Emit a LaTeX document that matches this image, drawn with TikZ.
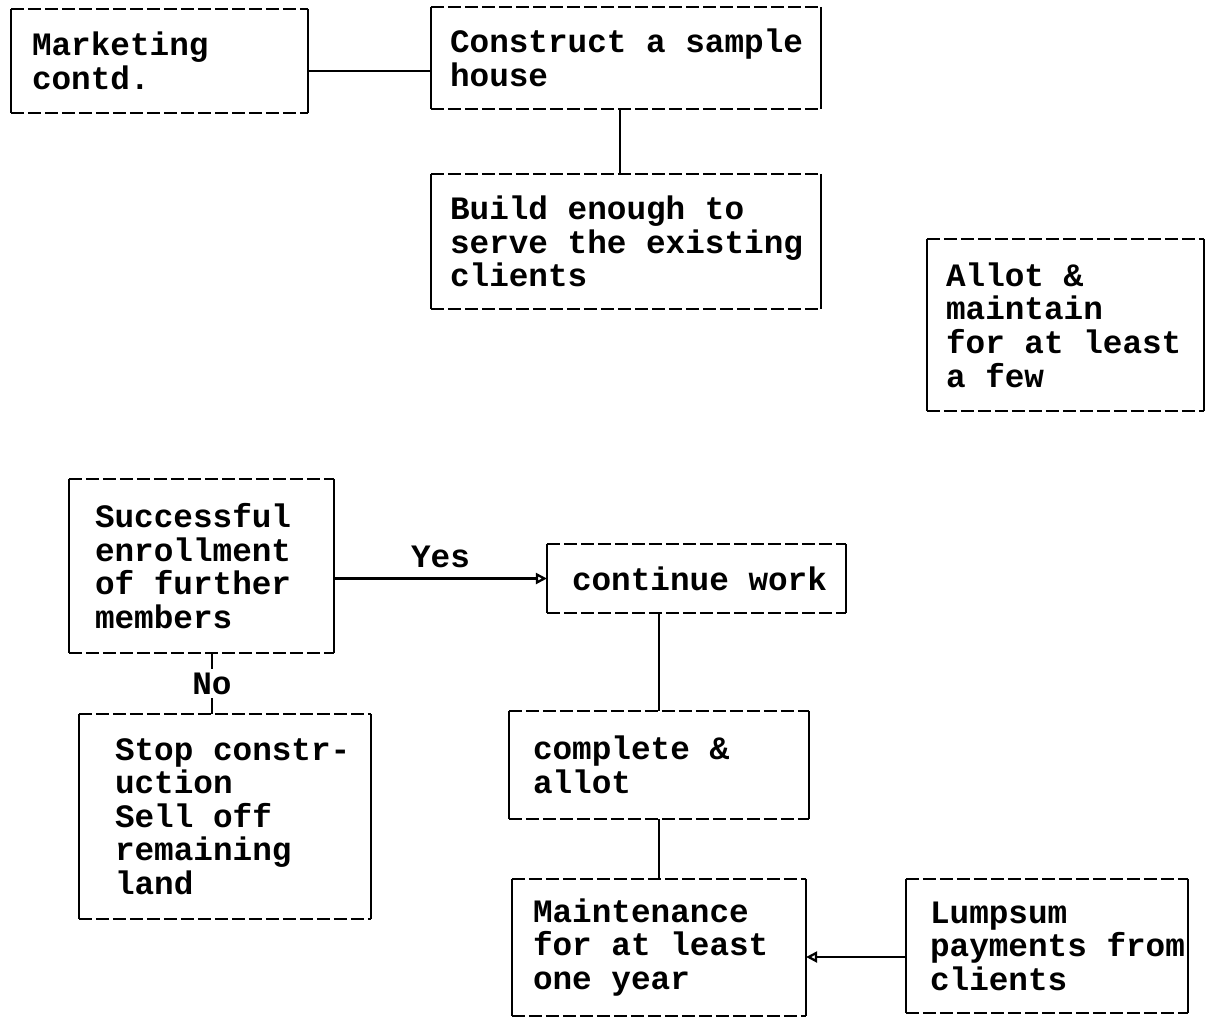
\documentclass[tikz,border=0pt]{standalone}
\usepackage{fontspec}
\newfontfamily\boxfont{Liberation Mono}[WordSpace={1,0,0}]
\newcommand\boxtext{\boxfont\bfseries\fontsize{18.6pt}{19.1pt}\selectfont}
\usetikzlibrary{arrows.meta}

\begin{document}
\hyphenpenalty=10000
\exhyphenpenalty=10000
\begin{tikzpicture}
      [x=0.02cm, y=-0.02cm, line width=1.3pt,
       box/.style={inner ysep=0pt, align=flush left, font=\boxtext},
       dashline/.style={dash pattern=on 0.26cm off 0.08cm},
       tip/.style={-{Triangle[open,length=0.22cm,width=0.22cm]}}]
      \useasboundingbox (0,0) rectangle (1213,1019);

      \node[box, minimum width=5.9cm, minimum height=2.04cm, text width=5.1cm] (mkt) at (159.5,61) {Marketing\\contd.};
      \node[box, minimum width=7.76cm, minimum height=2cm, text width=7.04cm] (sample) at (626,58) {Construct~a~sample\\house};
      \node[box, minimum width=7.76cm, minimum height=2.66cm, text width=7.04cm] (build) at (626,241.5) {Build enough to\\serve~the~existing\\clients};
      \node[box, minimum width=5.5cm, minimum height=3.4cm, text width=4.78cm] (allot) at (1065.5,325) {Allot \&\\maintain\\for~at~least\\a few};

      \node[box, minimum width=5.26cm, minimum height=3.44cm, text width=4.26cm] (enrol) at (201.5,566) {Successful\\enrollment\\of further\\members};
      \node[box, minimum width=5.94cm, minimum height=1.34cm, text width=4.98cm] (cont) at (696.5,578.5) {continue~work};
      \node[box, minimum width=5.8cm, minimum height=4.06cm, text width=4.4cm] (stop) at (225,816.5) {Stop~constr-\\uction\\Sell off\\remaining\\land};
      \node[box, minimum width=5.96cm, minimum height=2.12cm, text width=5.04cm] (compl) at (659,765) {complete \&\\allot};
      \node[box, minimum width=5.84cm, minimum height=2.7cm, text width=5.04cm] (maint) at (659,947.5) {Maintenance\\for at least\\one year};
      \node[box, minimum width=5.6cm, minimum height=2.64cm, text width=4.68cm] (lump) at (1047,946) {Lumpsum\\payments~from\\clients};

      % box outlines: dashed top and bottom, solid sides
      \foreach \n in {mkt,sample,build,allot,enrol,cont,stop,compl,maint,lump} {
        \draw[dashline] (\n.north west) -- (\n.north east) (\n.south west) -- (\n.south east);
        \draw (\n.north west) -- (\n.south west) (\n.north east) -- (\n.south east);
      }

      \draw ([yshift=-0.2cm]mkt.east) -- ([yshift=-0.2cm]mkt.east -| sample.west);
      \draw ([xshift=-0.12cm]sample.south) -- ([xshift=-0.12cm]build.north);
      \draw[tip] (enrol.east |- cont) -- node[box, above=0.2cm] {Yes} (cont.west);
      \draw ([xshift=0.21cm]enrol.south) -- node[box, fill=white, inner sep=2pt] {No} ([xshift=0.21cm]enrol.south |- stop.north);
      \draw (compl.north |- cont.south) -- (compl.north);
      \draw (compl.south) -- (maint.north);
      \draw[tip] ([yshift=-0.22cm]lump.west) -- ([yshift=-0.22cm]lump.west -| maint.east);
   \end{tikzpicture}
\end{document}
